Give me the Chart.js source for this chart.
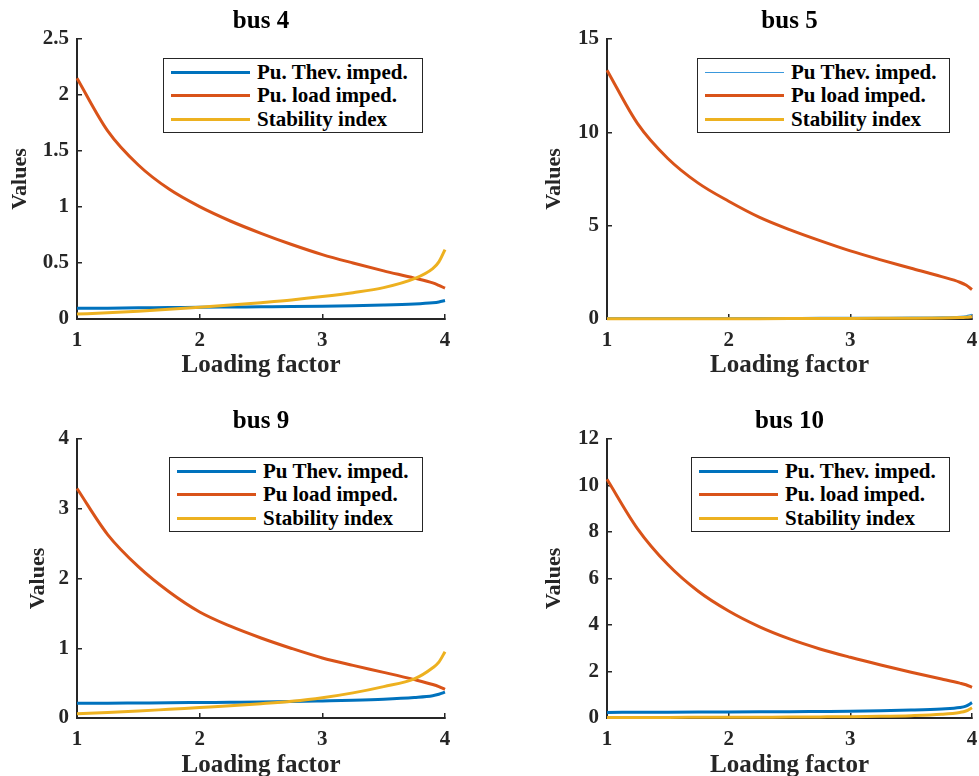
<!DOCTYPE html>
<html>
<head>
<meta charset="utf-8">
<title>Bus stability</title>
<script src="https://cdn.jsdelivr.net/npm/chart.js@4.4.1/dist/chart.umd.min.js"></script>
<style>
  body {
    margin: 0;
    width: 979px;
    height: 776px;
    overflow: hidden;
    position: relative;
    background: #fff;
    font-family: "Liberation Serif", "Times New Roman", serif;
  }
  canvas { position: absolute; }
  .legend {
    position: absolute;
    box-sizing: border-box;
    border: 1px solid #262626;
    background: #fff;
    padding-top: 1.5px;
    font-weight: bold;
    font-size: 21px;
    color: #000;
  }
  .legend .row {
    display: flex;
    align-items: center;
    height: 23.5px;
    padding-left: 7px;
    white-space: nowrap;
  }
  .legend .swatch { width: 79px; margin-right: 7px; flex: none; }
</style>
</head>
<body>
<script>
// =========================
// Data
// =========================
const loadingFactor = [1, 1.25, 1.5, 1.75, 2, 2.25, 2.5, 2.75, 3, 3.25, 3.5, 3.75, 3.9, 3.95, 4];

const busTitles = ["bus 4", "bus 5", "bus 9", "bus 10"];

// bus 4
const bus4Thev = [0.095, 0.097, 0.1, 0.102, 0.105, 0.107, 0.109, 0.111, 0.114, 0.118, 0.124, 0.134, 0.145, 0.152, 0.165];
const bus4Load = [2.15, 1.68, 1.375, 1.16, 1.003, 0.875, 0.765, 0.665, 0.575, 0.5, 0.43, 0.365, 0.322, 0.3, 0.275];
const bus4Stab = [0.044, 0.056, 0.07, 0.086, 0.104, 0.124, 0.146, 0.17, 0.2, 0.235, 0.28, 0.36, 0.45, 0.51, 0.62];
const bus4Labels = ["Pu. Thev. imped.", "Pu. load imped.", "Stability index"];

// bus 5
const bus5Thev = [0.07, 0.07, 0.07, 0.072, 0.074, 0.076, 0.078, 0.08, 0.083, 0.088, 0.095, 0.11, 0.14, 0.17, 0.25];
const bus5Load = [13.33, 10.48, 8.6, 7.28, 6.31, 5.46, 4.79, 4.2, 3.65, 3.17, 2.72, 2.27, 1.97, 1.82, 1.58];
const bus5Stab = [0.01, 0.012, 0.014, 0.016, 0.018, 0.02, 0.023, 0.026, 0.03, 0.035, 0.042, 0.055, 0.075, 0.09, 0.12];
const bus5Labels = ["Pu Thev. imped.", "Pu load imped.", "Stability index"];

// bus 9
const bus9Thev = [0.21, 0.212, 0.215, 0.218, 0.222, 0.226, 0.23, 0.236, 0.245, 0.255, 0.27, 0.295, 0.32, 0.34, 0.37];
const bus9Load = [3.29, 2.63, 2.17, 1.81, 1.52, 1.316, 1.147, 0.997, 0.861, 0.754, 0.654, 0.55, 0.48, 0.45, 0.41];
const bus9Stab = [0.06, 0.08, 0.1, 0.125, 0.15, 0.175, 0.205, 0.24, 0.29, 0.36, 0.45, 0.56, 0.72, 0.8, 0.95];
const bus9Labels = ["Pu Thev. imped.", "Pu load imped.", "Stability index"];

// bus 10
const bus10Thev = [0.24, 0.245, 0.25, 0.255, 0.26, 0.265, 0.27, 0.28, 0.29, 0.31, 0.34, 0.39, 0.45, 0.51, 0.66];
const bus10Load = [10.27, 8.15, 6.6, 5.45, 4.6, 3.93, 3.4, 2.97, 2.61, 2.28, 1.97, 1.68, 1.5, 1.43, 1.32];
const bus10Stab = [0.02, 0.022, 0.025, 0.028, 0.032, 0.036, 0.04, 0.047, 0.055, 0.07, 0.1, 0.16, 0.24, 0.3, 0.44];
const bus10Labels = ["Pu. Thev. imped.", "Pu. load imped.", "Stability index"];

const yMax = [2.5, 15, 4, 12];
const yStep = [0.5, 5, 1, 2];

// =========================
// Layout / styles
// =========================
const FONT = "'Liberation Serif', 'Times New Roman', serif";
const AXIS = "#262626";
const colors = ["#0072BD", "#D95319", "#EDB120"];

const panels = [
  { series: [bus4Thev, bus4Load, bus4Stab], labels: bus4Labels, left: 0, top: 0, width: 460, yWidth: 77, padRight: 15, xHeight: 62, yTitlePad: 7.3, thevWidth: 3, legend: [163, 58, 260, 75] },
  { series: [bus5Thev, bus5Load, bus5Stab], labels: bus5Labels, left: 520, top: 0, width: 459, yWidth: 87, padRight: 7, xHeight: 62, yTitlePad: 21.5, thevWidth: 1.3, legend: [697, 58, 253, 75] },
  { series: [bus9Thev, bus9Load, bus9Stab], labels: bus9Labels, left: 0, top: 400, width: 460, yWidth: 77, padRight: 15, xHeight: 63, yTitlePad: 24.8, thevWidth: 3, legend: [169, 457, 254, 75] },
  { series: [bus10Thev, bus10Load, bus10Stab], labels: bus10Labels, left: 520, top: 400, width: 459, yWidth: 87, padRight: 7, xHeight: 63, yTitlePad: 21.5, thevWidth: 3, legend: [691, 457, 259, 75] },
];

function axisGrid() {
  return {
    display: true,
    drawOnChartArea: false,
    drawTicks: true,
    tickLength: -5,
    color: AXIS,
    lineWidth: 1.5,
  };
}

function makePanel(p, i) {
  const canvas = document.createElement("canvas");
  canvas.width = p.width;
  canvas.height = 381;
  canvas.style.left = p.left + "px";
  canvas.style.top = p.top + "px";
  canvas.style.width = p.width + "px";
  canvas.style.height = "381px";
  document.body.appendChild(canvas);

  const datasets = p.series.map((values, k) => ({
    label: p.labels[k],
    data: values.map((v, j) => ({ x: loadingFactor[j], y: v })),
    borderColor: k === 0 && p.thevWidth < 2 ? "#3A98DC" : colors[k],
    borderWidth: k === 0 ? p.thevWidth : 3,
    pointRadius: 0,
    cubicInterpolationMode: "monotone",
    clip: false,
    order: 3 - k,
  }));

  const chart = new Chart(canvas.getContext("2d"), {
    type: "line",
    data: { datasets },
    options: {
      responsive: false,
      animation: false,
      layout: { padding: { left: 0, right: p.padRight, top: 0, bottom: 0 } },
      plugins: {
        legend: { display: false },
        tooltip: { enabled: false },
        title: {
          display: true,
          fullSize: false,
          text: busTitles[i],
          color: "#000",
          font: { family: FONT, size: 25, weight: "bold" },
          padding: { top: 7, bottom: 2 },
        },
      },
      scales: {
        x: {
          type: "linear",
          min: 1,
          max: 4,
          ticks: { stepSize: 1, padding: 14, color: AXIS, font: { family: FONT, size: 21, weight: "bold" } },
          grid: axisGrid(),
          border: { display: true, color: AXIS, width: 2 },
          title: {
            display: true,
            text: "Loading factor",
            color: AXIS,
            font: { family: FONT, size: 25, weight: "bold" },
            padding: { top: 0, bottom: 0 },
          },
          afterFit: (s) => {
            s.height = p.xHeight;
            s.paddingLeft = 0;
            s.paddingRight = 0;
          },
        },
        y: {
          min: 0,
          max: yMax[i],
          ticks: {
            stepSize: yStep[i],
            padding: 13,
            color: AXIS,
            font: { family: FONT, size: 21, weight: "bold" },
            callback: (v) => String(v),
          },
          grid: axisGrid(),
          border: { display: true, color: AXIS, width: 2 },
          title: {
            display: true,
            text: "Values",
            color: AXIS,
            font: { family: FONT, size: 22, weight: "bold" },
            padding: { top: p.yTitlePad, bottom: 0 },
          },
          afterFit: (s) => {
            s.width = p.yWidth;
            s.paddingTop = 0;
            s.paddingBottom = 0;
          },
        },
      },
    },
  });

  // legend box built from the chart's datasets
  const box = document.createElement("div");
  box.className = "legend";
  const [lx, ly, lw, lh] = p.legend;
  box.style.left = lx + "px";
  box.style.top = ly + "px";
  box.style.width = lw + "px";
  box.style.height = lh + "px";
  chart.data.datasets.forEach((ds) => {
    const row = document.createElement("div");
    row.className = "row";
    const sw = document.createElement("span");
    sw.className = "swatch";
    sw.style.height = ds.borderWidth + "px";
    sw.style.background = ds.borderColor;
    const txt = document.createElement("span");
    txt.textContent = ds.label;
    row.appendChild(sw);
    row.appendChild(txt);
    box.appendChild(row);
  });
  document.body.appendChild(box);
}

panels.forEach(makePanel);
</script>
</body>
</html>
